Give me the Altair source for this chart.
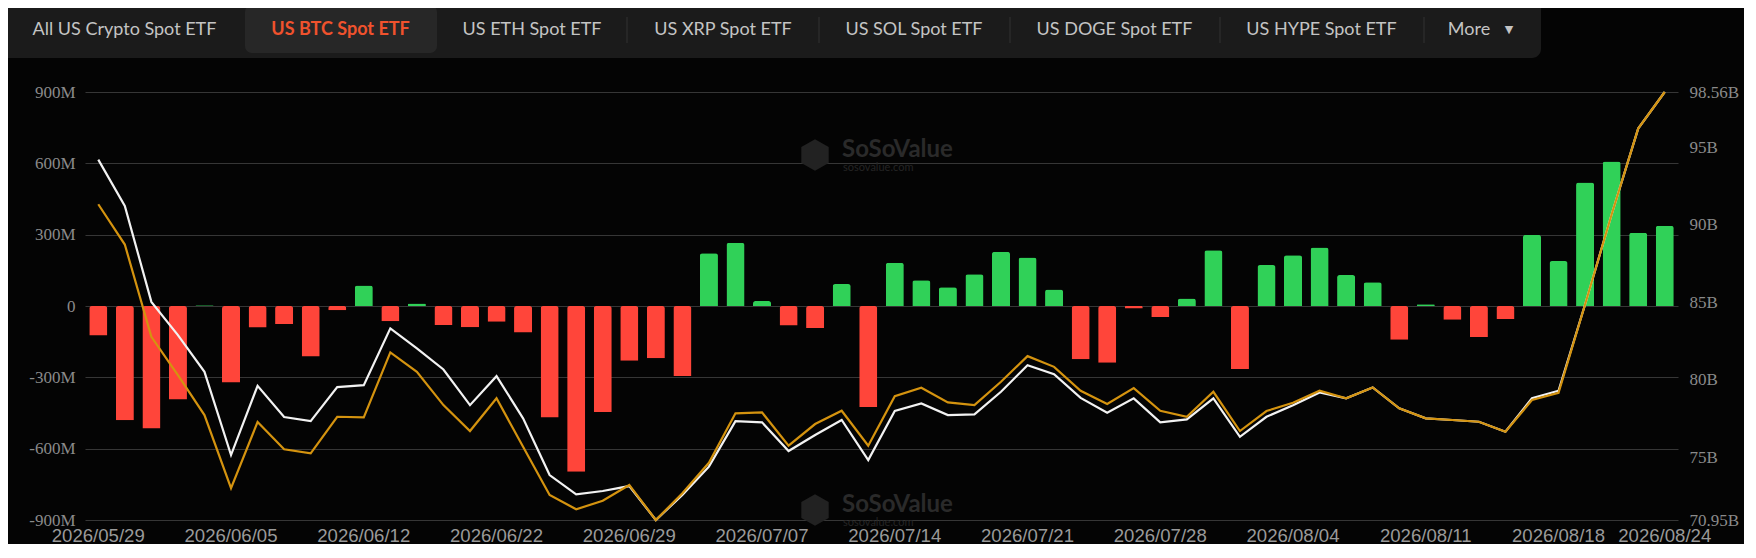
import altair as alt
import pandas as pd

# ---------------- data ----------------
dates = [
    "2026/05/29",
    "2026/06/01", "2026/06/02", "2026/06/03", "2026/06/04", "2026/06/05",
    "2026/06/08", "2026/06/09", "2026/06/10", "2026/06/11", "2026/06/12",
    "2026/06/15", "2026/06/16", "2026/06/17", "2026/06/18",
    "2026/06/22", "2026/06/23", "2026/06/24", "2026/06/25", "2026/06/26",
    "2026/06/29", "2026/06/30", "2026/07/01", "2026/07/02",
    "2026/07/06", "2026/07/07", "2026/07/08", "2026/07/09", "2026/07/10",
    "2026/07/13", "2026/07/14", "2026/07/15", "2026/07/16", "2026/07/17",
    "2026/07/20", "2026/07/21", "2026/07/22", "2026/07/23", "2026/07/24",
    "2026/07/27", "2026/07/28", "2026/07/29", "2026/07/30", "2026/07/31",
    "2026/08/03", "2026/08/04", "2026/08/05", "2026/08/06", "2026/08/07",
    "2026/08/10", "2026/08/11", "2026/08/12", "2026/08/13", "2026/08/14",
    "2026/08/17", "2026/08/18", "2026/08/19", "2026/08/20", "2026/08/21",
    "2026/08/24",
]

# daily total net inflow (M USD)
net_inflow = [
    -124, -481, -515, -393, 3, -322, -90, -76, -212, -18,
    86, -64, 11, -80, -89, -66, -111, -469, -697, -446,
    -230, -220, -294, 222, 266, 21, -82, -93, 92, -425,
    182, 108, 79, 134, 228, 204, 69, -224, -239, -11,
    -46, 32, 234, -265, 172, 213, 246, 130, 100, -142,
    7, -58, -130, -55, 299, 189, 519, 608, 308, 338,
]

# total net assets (B USD) - orange line
net_assets = [
    91.32, 88.72, 82.77, 80.30, 77.72, 73.01, 77.27, 75.51, 75.25, 77.61,
    77.57, 81.76, 80.51, 78.36, 76.69, 78.80, 75.68, 72.56, 71.64, 72.19,
    73.21, 70.95, 72.67, 74.64, 77.83, 77.89, 75.75, 77.14, 78.00, 75.74,
    78.94, 79.48, 78.54, 78.36, 79.87, 81.52, 80.83, 79.29, 78.43, 79.46,
    78.00, 77.61, 79.22, 76.69, 77.98, 78.51, 79.29, 78.80, 79.50, 78.15,
    77.51, 77.40, 77.29, 76.64, 78.69, 79.16, 84.85, 90.66, 96.20, 98.56,
]

# second series (white line), on the same right-hand scale
white_series = [
    94.20, 91.21, 85.02, 82.88, 80.51, 75.14, 79.61, 77.59, 77.33, 79.52,
    79.65, 83.31, 82.02, 80.66, 78.36, 80.23, 77.51, 73.85, 72.61, 72.82,
    73.14, 70.95, 72.56, 74.39, 77.33, 77.25, 75.40, 76.43, 77.40, 74.82,
    77.98, 78.47, 77.72, 77.76, 79.22, 80.94, 80.36, 78.83, 77.87, 78.80,
    77.25, 77.44, 78.80, 76.32, 77.61, 78.36, 79.18, 78.80, 79.50, 78.15,
    77.51, 77.40, 77.29, 76.64, 78.81, 79.29, 84.85, 90.66, 96.20, 98.56,
]

x_tick_labels = [
    "2026/05/29", "2026/06/05", "2026/06/12", "2026/06/22", "2026/06/29",
    "2026/07/07", "2026/07/14", "2026/07/21", "2026/07/28", "2026/08/04",
    "2026/08/11", "2026/08/18", "2026/08/24",
]
left_ticks = [-900, -600, -300, 0, 300, 600, 900]
right_ticks = [70.95, 75, 80, 85, 90, 95, 98.56]

tabs = ["All US Crypto Spot ETF", "US BTC Spot ETF", "US ETH Spot ETF",
        "US XRP Spot ETF", "US SOL Spot ETF", "US DOGE Spot ETF",
        "US HYPE Spot ETF", "More"]

df = pd.DataFrame({
    "date": dates,
    "flow": net_inflow,
    "assets": net_assets,
    "white": white_series,
})

# ---------------- layout / style ----------------
W, H = 1593, 428
BG = "#040404"
RED = "#FF453A"
GREEN = "#30D158"
ORANGE = "#D4930F"
one = pd.DataFrame({"a": [0]})

tab_x = [39.5, 255.5, 447, 638, 829, 1029.5, 1236.5, 1384]
sep_x = [542, 734, 925, 1135, 1339]
TAB_Y = -62

x_enc = alt.X(
    "date:O", sort=dates, title=None,
    scale=alt.Scale(paddingInner=0.32, paddingOuter=0.16),
    axis=alt.Axis(values=x_tick_labels, labelAngle=0, ticks=False, tickSize=0,
                  domain=False, grid=False, labelPadding=21,
                  labelBaseline="alphabetic",
                  labelFont="Liberation Sans", labelFontSize=18.6,
                  labelColor="#9a9a9a"),
)

decor = []
# tab bar
decor.append(alt.Chart(one).mark_rect(color="#1b1b1b", cornerRadius=9).encode(
    x=alt.value(-90), x2=alt.value(1456), y=alt.value(-100), y2=alt.value(-34)))
decor.append(alt.Chart(one).mark_rect(color="#272727", cornerRadius=7).encode(
    x=alt.value(160), x2=alt.value(352), y=alt.value(-87), y2=alt.value(-39)))
for i, (label, tx) in enumerate(zip(tabs, tab_x)):
    sel = (i == 1)
    decor.append(alt.Chart(one).mark_text(
        text=label, font="Lato", fontSize=18,
        fontWeight="bold" if sel else "normal",
        color="#f0522d" if sel else "#c4c4c4",
        align="center", baseline="middle").encode(
        x=alt.value(tx), y=alt.value(TAB_Y)))
decor.append(alt.Chart(one).mark_text(
    text="▼", font="DejaVu Sans", fontSize=11, color="#c4c4c4",
    align="center", baseline="middle").encode(
    x=alt.value(1424), y=alt.value(TAB_Y)))
for sx in sep_x:
    decor.append(alt.Chart(one).mark_rule(color="#333333", strokeWidth=1).encode(
        x=alt.value(sx), y=alt.value(-75), y2=alt.value(-49)))

# watermarks
hexagon = "M0,-1L0.866,-0.5L0.866,0.5L0,1L-0.866,0.5L-0.866,-0.5Z"
for wy in (60, 415):
    decor.append(alt.Chart(one).mark_point(
        shape=hexagon, size=1000, filled=True, color="#222222", opacity=1).encode(
        x=alt.value(730), y=alt.value(wy + 3)))
    decor.append(alt.Chart(one).mark_text(
        text="SoSoValue", font="Lato", fontSize=24, fontWeight="bold",
        color="#2a2a2a", align="left", baseline="middle").encode(
        x=alt.value(757), y=alt.value(wy - 2)))
    decor.append(alt.Chart(one).mark_text(
        text="sosovalue.com", font="Lato", fontSize=11,
        color="#252525", align="left", baseline="middle").encode(
        x=alt.value(758), y=alt.value(wy + 16)))

bars = alt.Chart(df).mark_bar(cornerRadiusEnd=2.5).encode(
    x=x_enc,
    y=alt.Y("flow:Q", title=None,
            scale=alt.Scale(domain=[-900, 900], nice=False),
            axis=alt.Axis(values=left_ticks, orient="left",
                          labelExpr="datum.value == 0 ? '0' : datum.value + 'M'",
                          grid=True, gridColor="#363636", gridWidth=1,
                          domain=False, ticks=False, tickSize=0, labelPadding=10,
                          labelFont="Liberation Serif", labelFontSize=17,
                          labelColor="#8a8a8a")),
    color=alt.condition(alt.datum.flow > 0, alt.value(GREEN), alt.value(RED)),
)

right_axis = alt.Axis(values=right_ticks, orient="right",
                      labelExpr="datum.value + 'B'", grid=False,
                      domain=False, ticks=False, tickSize=0, labelPadding=11,
                      labelFont="Liberation Serif", labelFontSize=17,
                      labelColor="#8a8a8a")
right_scale = alt.Scale(domain=[70.95, 98.56], nice=False, zero=False)

white_line = alt.Chart(df).mark_line(color="#f2f2f2", strokeWidth=2.2).encode(
    x=x_enc,
    y=alt.Y("white:Q", title=None, scale=right_scale, axis=right_axis),
)
orange_line = alt.Chart(df).mark_line(color=ORANGE, strokeWidth=2.2).encode(
    x=x_enc,
    y=alt.Y("assets:Q", title=None, scale=right_scale, axis=right_axis),
)
lines = alt.layer(white_line, orange_line)

chart = alt.layer(*decor, bars, lines).resolve_scale(y="independent").properties(
    width=W, height=H,
    padding={"left": 77, "top": 84, "right": 66, "bottom": 24},
    autosize=alt.AutoSizeParams(type="none"),
    background=BG,
).configure_view(stroke=None)

chart.save("out.html", embed_options={"renderer": "svg", "actions": False})
